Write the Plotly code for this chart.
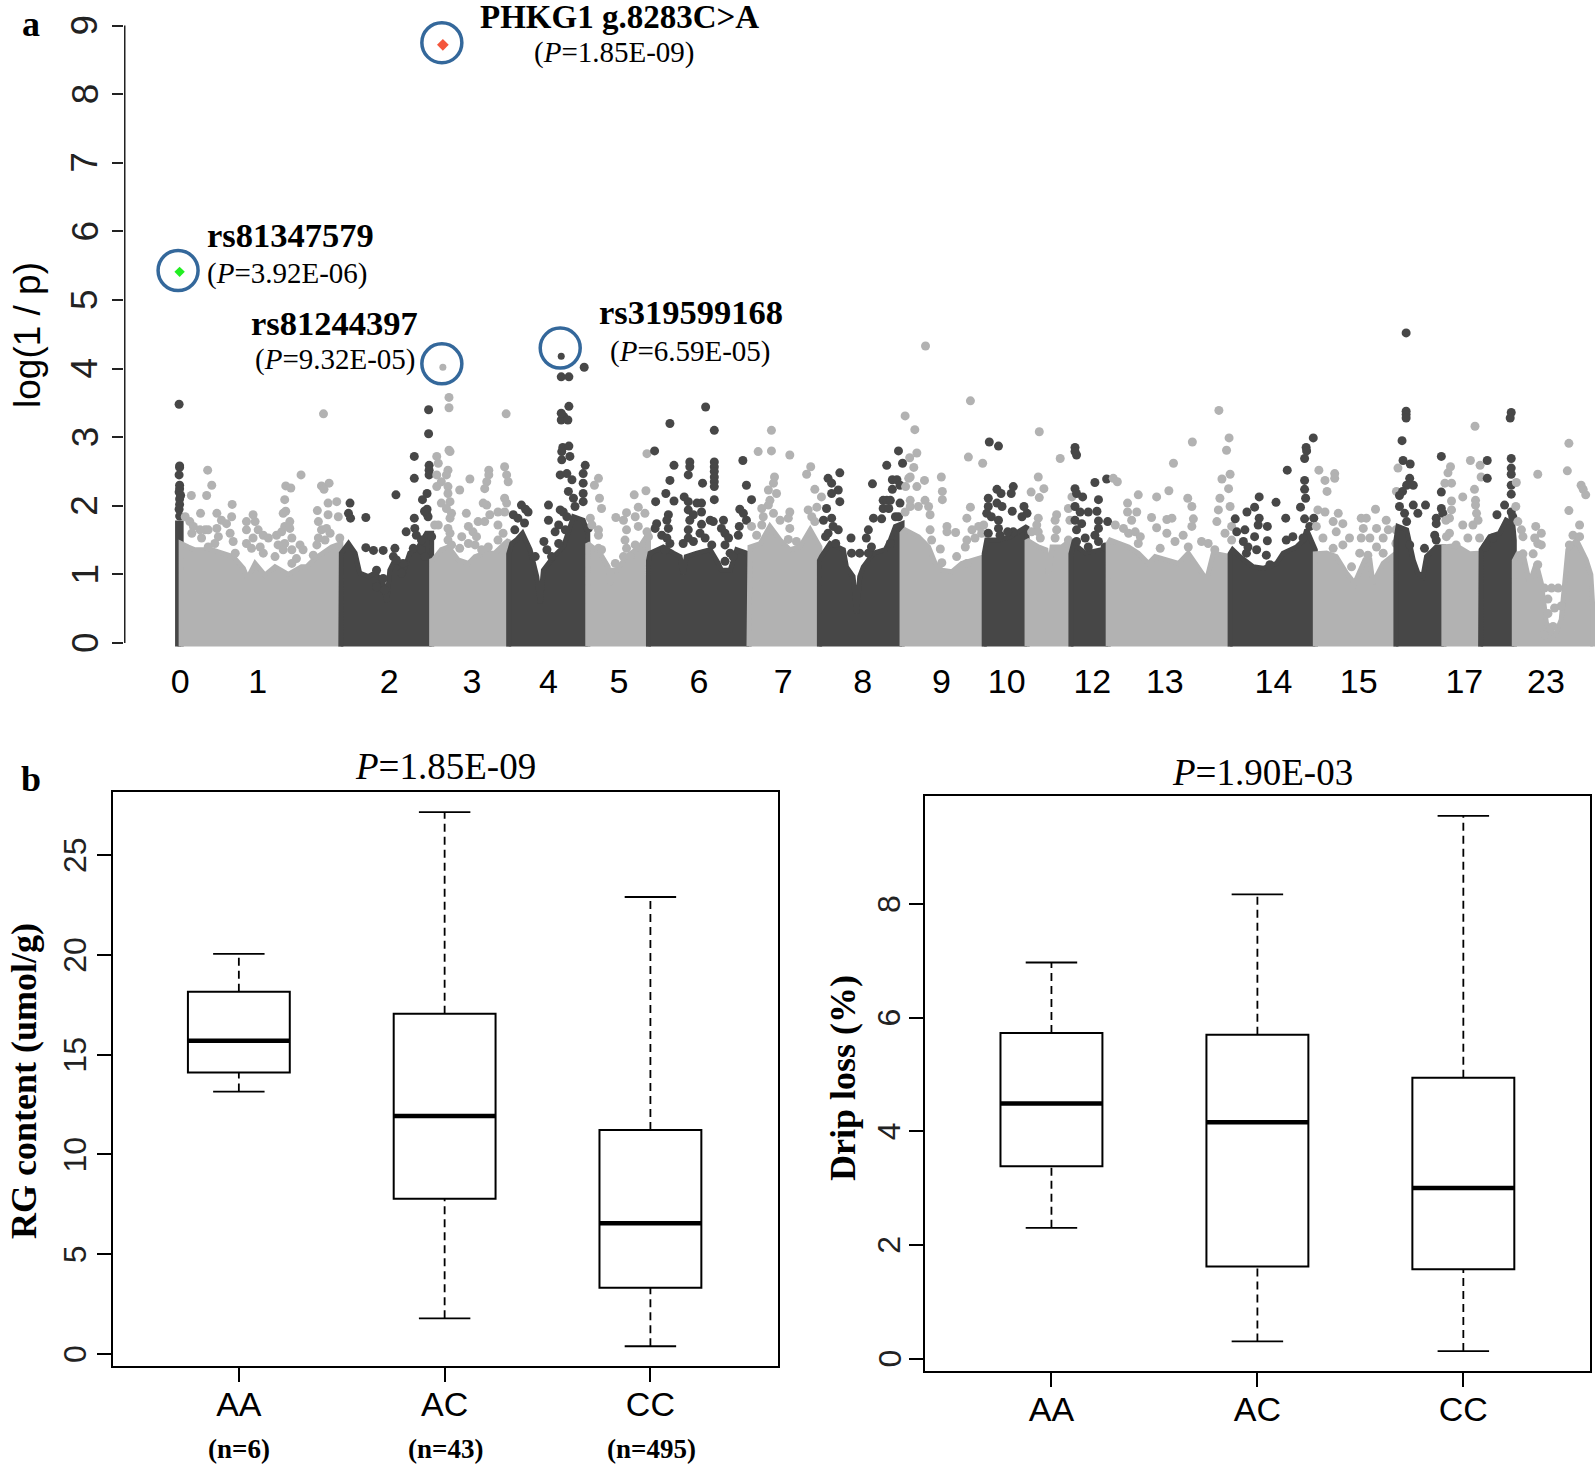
import plotly.graph_objects as go

W, H = 1595, 1466
DARK, LIGHT = "#474747", "#b2b2b2"
SERIF, SANS = "Liberation Serif", "Liberation Sans"

# ---- panel a: genome position (arbitrary units) and log(1/p)
CHR_TICK_POS = [353, 505, 763, 925, 1075, 1213, 1370, 1535, 1691, 1845, 1973, 2141, 2283, 2496, 2663, 2870, 3030]
CHR_TICK_LABELS = ["0", "1", "2", "3", "4", "5", "6", "7", "8", "9", "10", "12", "13", "14", "15", "17", "23"]
LOG_TICKS = [0, 1, 2, 3, 4, 5, 6, 7, 8, 9]

S0_ENV = [(348, 1.75), (355, 1.75)]
S0_PTS = [(351, 3.48), (352, 2.58), (352, 2.56), (351, 2.45), (352, 2.3), (352, 2.25), (351, 2.2), (354, 2.15), (352, 2.1), (352, 2.02), (351, 1.95), (352, 1.85)]
S1_ENV = [(355, 1.45), (369, 1.4), (382, 1.36), (415, 1.36), (434, 1.31), (457, 1.26), (477, 1.09), (485, .94), (500, 1.16), (519, .99), (539, 1.11), (565, 1.0), (591, 1.11), (601, 1.11), (617, 1.23), (650, 1.4), (668, 1.45)]
S1_PTS = [(375, 2.15), (405, 2.15), (407, 2.52), (415, 2.3), (455, 2.02), (558, 2.09), (560, 2.29), (570, 2.26), (590, 2.45), (560, 1.92), (630, 2.29), (645, 2.33), (635, 2.24), (660, 2.06), (634, 3.34), (393, 1.89),
          (363, 1.84), (372, 1.77), (379, 1.70), (376, 1.60), (392, 1.65), (402, 1.65), (395, 1.53), (408, 1.65), (425, 1.67), (428, 1.55), (421, 1.45), (408, 1.40), (425, 1.89), (434, 1.79), (444, 1.74), (454, 1.84), (451, 1.60), (457, 1.48), (483, 1.77), (483, 1.65), (496, 1.87), (500, 1.77), (506, 1.65), (516, 1.57), (526, 1.53), (483, 1.45), (496, 1.53), (510, 1.40), (493, 1.38), (516, 1.31), (461, 1.31), (542, 1.57), (552, 1.62), (558, 1.70), (555, 1.89), (568, 1.77), (568, 1.67), (572, 1.53), (558, 1.45), (545, 1.43), (539, 1.26), (555, 1.36), (572, 1.36), (588, 1.43), (594, 1.36), (581, 1.23), (572, 1.16), (621, 1.43), (624, 1.77), (630, 1.65), (640, 1.67), (647, 1.60), (624, 1.53), (637, 1.50), (663, 1.84), (666, 1.53), (643, 2.04), (643, 1.87), (622, 1.93), (614, 1.28)]
S2_ENV = [(668, 1.2), (669, 1.31), (683, 1.45), (696, 1.31), (705, 1.02), (722, .97), (735, 1.02), (751, .87), (758, .60), (764, 1.06), (774, 1.21), (794, 1.11), (803, 1.31), (820, 1.40), (836, 1.60), (846, 1.60)]
S2_PTS = [(812, 2.72), (812, 2.40), (841, 2.59), (841, 2.52), (841, 2.45), (776, 2.16), (837, 2.18), (828, 2.09), (836, 1.89), (839, 1.84), (837, 1.95), (832, 1.92), (686, 2.04), (683, 1.89), (687, 1.82), (717, 1.83), (812, 1.82), (796, 1.62), (813, 1.67), (816, 1.57), (826, 1.5), (846, 1.55), (810, 1.38), (826, 1.36), (833, 1.26), (717, 1.39), (732, 1.35), (751, 1.35), (774, 1.38), (738, 1.06), (751, .94), (738, .82), (754, .77), (790, 1.16), (787, 1.02), (771, 1.26), (777, 1.21), (840, 3.05), (840, 3.4)]
S3_ENV = [(846, 1.2), (849, 1.21), (865, 1.36), (879, 1.40), (898, 1.21), (918, 1.16), (931, 1.26), (950, 1.31), (970, 1.31), (989, 1.45), (997, 1.5)]
S3_PTS = [(856, 2.72), (859, 2.62), (882, 2.79), (878, 2.52), (856, 2.45), (875, 2.45), (865, 2.35), (856, 2.28), (878, 2.28), (878, 2.18), (882, 2.06), (865, 2.04), (875, 1.96), (885, 1.89), (882, 1.82), (852, 1.72), (859, 1.72), (878, 1.67), (882, 1.60), (878, 1.5), (885, 1.43), (901, 2.23), (921, 2.39), (914, 1.89), (918, 1.70), (905, 1.55), (927, 1.62), (934, 1.55), (918, 1.45), (931, 1.43), (944, 1.36), (957, 1.40), (937, 1.77), (950, 1.77), (960, 1.87), (954, 2.01), (947, 2.04), (958, 2.52), (958, 2.45), (954, 2.35), (950, 2.25), (989, 2.57), (993, 2.45), (996, 2.35), (989, 2.11), (993, 2.04), (976, 1.91), (989, 1.91), (976, 1.72), (986, 1.60), (976, 1.5), (901, 1.38), (880, 3.43), (880, 3.58), (992, 3.34), (880, 2.81)]
S4_ENV = [(997, 1.3), (1003, 1.45), (1012, 1.5), (1024, 1.6), (1039, 1.36), (1052, .97), (1059, .58), (1065, 1.06), (1085, 1.26), (1104, 1.40), (1124, 1.84), (1143, 1.79), (1152, 1.6)]
S4_PTS = [(1075, 2.01), (1075, 1.79), (1066, 1.48), (1088, 1.62), (1072, 1.36), (1095, 1.45), (1081, 1.26), (1049, 1.26), (1098, 1.94), (1104, 1.91), (1111, 1.84), (1095, 1.72), (1108, 1.65), (1114, 2.21), (1124, 2.11), (1098, 2.45), (1111, 2.47), (1121, 2.38), (1143, 2.33), (1143, 2.18), (1143, 2.06), (1147, 2.59), (1143, 2.47), (1127, 1.99), (1101, 2.67), (1117, 2.72), (1101, 2.79), (1153, 1.67), (1006, 1.87), (1022, 2.01), (1035, 1.91), (1009, 1.65), (1015, 1.82), (1028, 1.75), (1030, 1.95), (1100, 3.25), (1105, 3.3), (1115, 3.45), (1100, 3.35), (1113, 3.25), (1100, 3.88), (1115, 3.88), (1145, 4.02), (1103, 2.85), (1115, 2.87)]
S5_ENV = [(1152, 1.45), (1176, 1.31), (1192, 1.11), (1196, .85), (1201, 1.06), (1209, 1.06), (1228, 1.26), (1254, 1.40), (1271, 1.6)]
S5_PTS = [(1268, 2.76), (1173, 2.40), (1165, 2.30), (1175, 2.11), (1179, 1.96), (1243, 2.16), (1266, 2.22), (1207, 1.83), (1228, 1.90), (1251, 1.98), (1245, 1.84), (1264, 1.89), (1222, 1.79), (1228, 1.65), (1251, 1.70), (1157, 1.82), (1160, 1.72), (1173, 1.65), (1173, 1.57), (1225, 1.5), (1228, 1.38), (1245, 1.43), (1271, 1.55), (1268, 1.62), (1173, 1.38), (1179, 1.36), (1206, 1.16), (1222, 1.26), (1235, 1.26)]
S6_ENV = [(1271, 1.2), (1274, 1.31), (1300, 1.4), (1320, 1.31), (1333, 1.26), (1339, 1.0), (1345, 1.26), (1366, 1.31), (1392, 1.36), (1408, 1.16), (1414, 1.06), (1431, 1.06), (1444, 1.36), (1463, 1.31), (1468, 1.25)]
S6_PTS = [(1352, 2.64), (1352, 2.57), (1400, 2.64), (1400, 2.57), (1400, 2.5), (1400, 2.42), (1400, 2.35), (1400, 2.28), (1456, 2.66), (1321, 2.59), (1349, 2.45), (1313, 2.37), (1377, 2.33), (1463, 2.3), (1305, 2.18), (1285, 2.06), (1321, 2.07), (1341, 2.13), (1349, 2.06), (1400, 2.09), (1473, 2.09), (1366, 2.04), (1375, 2.04), (1375, 1.91), (1349, 1.94), (1359, 1.87), (1352, 1.79), (1310, 1.87), (1307, 1.79), (1287, 1.74), (1284, 1.67), (1310, 1.67), (1375, 1.73), (1392, 1.79), (1398, 1.77), (1418, 1.79), (1414, 1.67), (1421, 1.6), (1450, 1.95), (1457, 1.89), (1463, 1.79), (1449, 1.7), (1428, 1.53), (1447, 1.57), (1349, 1.65), (1349, 1.53), (1297, 1.57), (1307, 1.53), (1313, 1.45), (1339, 1.45), (1359, 1.48), (1372, 1.6), (1382, 1.53), (1395, 1.43), (1303, 1.36), (1421, 1.43), (1431, 1.31), (1421, 1.19), (1437, 1.26), (1283, 2.8), (1313, 3.2), (1383, 3.44), (1400, 3.1)]
S7_ENV = [(1468, 1.3), (1470, 1.4), (1490, 1.45), (1509, 1.7), (1529, 1.5), (1548, 1.36), (1568, 1.4), (1588, 1.65), (1607, 1.4)]
S7_PTS = [(1512, 3.1), (1486, 2.79), (1512, 2.8), (1548, 2.74), (1589, 2.57), (1581, 2.46), (1518, 2.42), (1516, 2.33), (1506, 2.23), (1522, 2.18), (1509, 2.08), (1506, 2.01), (1493, 1.96), (1516, 1.89), (1496, 1.84), (1493, 1.72), (1529, 1.79), (1548, 1.91), (1545, 1.82), (1548, 1.67), (1597, 2.24), (1610, 2.13), (1601, 1.98), (1584, 1.94), (1591, 1.84), (1597, 1.77), (1473, 1.7), (1483, 1.57), (1545, 1.51), (1561, 1.48)]
S8_ENV = [(1606, 1.2), (1610, 1.26), (1627, 1.45), (1653, 1.36), (1659, 1.11), (1672, .97), (1679, .43), (1685, .97), (1692, 1.11), (1712, 1.31), (1735, 1.36), (1745, 1.5), (1755, 1.7), (1768, 1.74)]
S8_PTS = [(1623, 2.4), (1646, 2.48), (1630, 2.33), (1643, 2.23), (1630, 2.18), (1646, 2.06), (1620, 1.96), (1630, 1.82), (1614, 1.79), (1643, 1.65), (1623, 1.6), (1668, 1.53), (1669, 1.31), (1685, 1.31), (1702, 1.31), (1708, 1.4), (1712, 1.82), (1702, 1.65), (1728, 1.81), (1710, 2.32), (1731, 2.08), (1731, 1.96), (1698, 1.53), (1761, 2.8), (1738, 2.59), (1769, 2.62), (1749, 2.38), (1758, 2.38), (1764, 2.3), (1749, 2.24), (1738, 2.08), (1745, 2.08), (1742, 1.96), (1764, 2.04), (1755, 1.84), (1761, 1.84), (1745, 1.45), (1638, 1.45), (1618, 1.55), (1633, 1.7)]
S9_ENV = [(1768, 1.6), (1774, 1.65), (1800, 1.55), (1820, 1.4), (1833, 1.16), (1846, 1.06), (1866, 1.04), (1885, 1.16), (1911, 1.21), (1930, 1.26)]
S9_PTS = [(1814, 4.33), (1902, 3.53), (1774, 3.31), (1793, 3.11), (1783, 2.7), (1898, 2.71), (1926, 2.62), (1797, 2.77), (1791, 2.56), (1784, 2.42), (1781, 2.4), (1797, 2.28), (1812, 2.37), (1775, 2.28), (1784, 2.08), (1774, 1.91), (1784, 1.99), (1800, 1.99), (1813, 2.08), (1820, 1.99), (1823, 1.87), (1845, 2.42), (1847, 2.21), (1847, 2.09), (1902, 1.98), (1895, 1.82), (1856, 1.7), (1856, 1.62), (1873, 1.61), (1823, 1.65), (1826, 1.5), (1843, 1.37), (1875, 1.26), (1846, 1.17), (1905, 1.65), (1918, 1.7), (1928, 1.72), (1895, 1.5), (1911, 1.53), (1892, 1.4), (1924, 1.6), (1895, 1.16)]
S10_ENV = [(1929, 1.3), (1934, 1.5), (1957, 1.5), (1980, 1.55), (2003, 1.65), (2013, 1.7)]
S10_PTS = [(1939, 2.93), (1957, 2.87), (1954, 2.24), (1962, 2.18), (1986, 2.28), (1982, 2.18), (1937, 2.11), (1954, 2.04), (1964, 1.99), (1984, 1.92), (2007, 1.99), (1937, 1.99), (1934, 1.89), (1943, 1.84), (1957, 1.79), (1957, 1.67), (1937, 1.6), (2003, 1.84), (2013, 1.89), (1960, 1.57), (1986, 1.62), (1975, 1.62)]
S11_ENV = [(2013, 1.5), (2035, 1.4), (2050, 1.36), (2055, 1.0), (2062, 1.4), (2081, 1.4), (2099, 1.5)]
S11_PTS = [(2035, 2.42), (2046, 2.25), (2021, 2.2), (2037, 2.12), (2101, 2.13), (2094, 1.96), (2071, 1.87), (2068, 1.79), (2071, 1.65), (2068, 1.53), (2097, 1.79), (2035, 1.82), (2032, 1.72), (2022, 1.62), (2035, 1.62), (2039, 1.53), (2094, 1.5), (2037, 3.08), (2078, 2.69)]
S12_ENV = [(2099, 1.3), (2104, 1.45), (2127, 1.31), (2159, 1.36), (2172, 1.36)]
S12_PTS = [(2107, 2.85), (2110, 2.74), (2107, 2.79), (2146, 2.34), (2169, 2.39), (2107, 2.25), (2110, 2.18), (2122, 2.13), (2153, 2.09), (2107, 1.99), (2117, 1.91), (2133, 1.91), (2150, 1.92), (2107, 1.79), (2120, 1.74), (2110, 1.65), (2153, 1.78), (2171, 1.77), (2153, 1.67), (2146, 1.57), (2153, 1.48), (2127, 1.53), (2133, 1.4), (2166, 1.4), (2110, 1.48)]
S13_ENV = [(2172, 1.45), (2176, 1.5), (2192, 1.45), (2212, 1.4), (2231, 1.31), (2251, 1.16), (2264, 1.26), (2290, 1.21), (2310, 1.16), (2329, 1.31), (2352, 1.06), (2365, .92), (2378, 1.31), (2411, 1.26)]
S13_PTS = [(2182, 2.4), (2190, 2.35), (2231, 2.16), (2267, 2.13), (2291, 2.22), (2328, 2.11), (2210, 2.04), (2210, 1.91), (2228, 1.91), (2336, 1.99), (2218, 1.79), (2257, 1.83), (2267, 1.68), (2287, 1.8), (2297, 1.82), (2339, 1.81), (2395, 2.39), (2411, 2.46), (2408, 2.25), (2391, 2.11), (2411, 1.99), (2388, 1.94), (2385, 1.77), (2414, 1.7), (2401, 1.6), (2414, 1.5), (2300, 2.62), (2319, 1.57), (2336, 1.7), (2186, 1.72), (2202, 1.67), (2212, 1.6), (2225, 1.62), (2235, 1.55), (2287, 1.6), (2303, 1.48), (2274, 1.38), (2329, 1.4), (2355, 1.48), (2368, 1.45), (2381, 1.36), (2231, 1.45), (2337, 2.93), (2389, 3.39), (2409, 2.99), (2404, 2.81)]
S14_ENV = [(2411, 1.3), (2416, 1.36), (2430, 1.26), (2456, 1.11), (2476, 1.09), (2502, 1.16), (2515, 1.31), (2541, 1.4), (2555, 1.5), (2561, 1.65), (2578, 1.36)]
S14_PTS = [(2574, 2.99), (2560, 2.85), (2561, 2.8), (2557, 2.69), (2523, 2.52), (2557, 2.37), (2557, 2.24), (2559, 2.11), (2549, 1.98), (2468, 2.13), (2501, 2.05), (2459, 1.98), (2444, 1.91), (2468, 1.82), (2466, 1.72), (2520, 1.82), (2557, 1.81), (2575, 1.82), (2484, 1.7), (2440, 1.65), (2484, 1.49), (2459, 1.55), (2437, 1.48), (2446, 1.4), (2463, 1.36), (2482, 1.28), (2521, 1.5), (2534, 1.55), (2554, 1.53), (2567, 1.7), (2489, 1.14), (2443, 1.31), (2421, 1.81), (2424, 1.62)]
S15_ENV = [(2578, 1.3), (2600, 1.31), (2619, 1.26), (2639, 1.02), (2655, .87), (2675, 1.21), (2685, 1.21), (2691, .87), (2711, 1.16), (2736, 1.31)]
S15_PTS = [(2585, 2.52), (2597, 2.37), (2601, 2.21), (2616, 2.47), (2616, 2.4), (2583, 1.94), (2597, 1.91), (2623, 1.89), (2632, 1.74), (2613, 1.77), (2619, 1.62), (2593, 1.53), (2580, 1.7), (2645, 1.53), (2632, 1.43), (2613, 1.38), (2649, 1.11), (2668, 1.82), (2678, 1.82), (2696, 1.95), (2672, 1.67), (2685, 1.53), (2698, 1.67), (2717, 1.79), (2721, 1.65), (2711, 1.53), (2698, 1.4), (2668, 1.53), (2665, 1.31), (2681, 1.28), (2711, 1.31), (2736, 1.65), (2736, 1.45), (2737, 2.21), (2740, 2.55)]
S16_ENV = [(2736, 1.5), (2740, 1.7), (2757, 1.65), (2770, 1.21), (2779, 1.02), (2789, .97), (2796, 1.26), (2815, 1.4), (2830, 1.4)]
S16_PTS = [(2756, 4.52), (2756, 3.38), (2756, 3.33), (2756, 3.28), (2748, 2.95), (2750, 2.66), (2764, 2.61), (2825, 2.72), (2763, 2.4), (2770, 2.3), (2757, 2.3), (2749, 2.21), (2743, 1.99), (2770, 2.01), (2779, 1.89), (2794, 2.01), (2825, 2.2), (2825, 1.96), (2828, 1.89), (2815, 1.82), (2815, 1.74), (2812, 1.57), (2815, 1.5), (2753, 1.89), (2757, 1.77), (2763, 1.43), (2792, 1.38), (2743, 2.15)]
S17_ENV = [(2830, 1.4), (2854, 1.42), (2881, 1.3), (2902, 1.31)]
S17_PTS = [(2891, 3.16), (2882, 2.66), (2901, 2.59), (2903, 2.42), (2838, 2.48), (2843, 2.57), (2832, 2.33), (2845, 2.33), (2890, 2.24), (2867, 2.13), (2892, 2.08), (2892, 2.01), (2845, 2.07), (2845, 1.94), (2841, 1.82), (2834, 1.79), (2894, 1.89), (2867, 1.72), (2887, 1.72), (2897, 1.79), (2835, 1.55), (2841, 1.6), (2877, 1.53), (2900, 1.53), (2854, 1.43)]
S18_ENV = [(2902, 1.2), (2903, 1.36), (2920, 1.55), (2939, 1.6), (2952, 1.79), (2965, 1.74), (2968, 1.5)]
S18_PTS = [(2962, 3.36), (2960, 3.28), (2915, 2.66), (2915, 2.4), (2962, 2.69), (2962, 2.55), (2962, 2.46), (2962, 2.3), (2962, 2.17), (2949, 2.01), (2934, 1.87), (2962, 1.91), (2965, 1.84), (2912, 1.4), (2926, 1.53)]
S19_ENV = [(2968, 1.2), (2975, 1.3), (2985, 1.31), (2998, .87), (3011, 1.16), (3021, .87), (3031, .29), (3047, .09), (3060, .34), (3073, 1.36), (3090, 1.5), (3109, 1.21), (3118, 1.0), (3122, .5)]
S19_PTS = [(3075, 2.91), (3014, 2.46), (3072, 2.51), (3099, 2.3), (3103, 2.24), (3108, 2.16), (3075, 1.93), (3096, 1.72), (2972, 2.34), (2971, 1.99), (2975, 1.77), (2982, 1.65), (2985, 1.55), (3010, 1.7), (3021, 1.6), (3008, 1.53), (3014, 1.45), (3021, 1.43), (3005, 1.3), (2985, 1.3), (3014, 1.14), (3027, .8), (3041, .8), (3054, .8), (3034, .64), (3060, .54), (3047, .51), (3034, .43), (3044, .24), (3037, .17), (3027, .12), (3083, 1.57), (3096, 1.55), (3076, 1.43)]

SEGMENTS = [
    (S0_ENV, S0_PTS), (S1_ENV, S1_PTS), (S2_ENV, S2_PTS), (S3_ENV, S3_PTS), (S4_ENV, S4_PTS),
    (S5_ENV, S5_PTS), (S6_ENV, S6_PTS), (S7_ENV, S7_PTS), (S8_ENV, S8_PTS), (S9_ENV, S9_PTS),
    (S10_ENV, S10_PTS), (S11_ENV, S11_PTS), (S12_ENV, S12_PTS), (S13_ENV, S13_PTS), (S14_ENV, S14_PTS),
    (S15_ENV, S15_PTS), (S16_ENV, S16_PTS), (S17_ENV, S17_PTS), (S18_ENV, S18_PTS), (S19_ENV, S19_PTS),
]

HIT_GREY_X, HIT_GREY_Y = [868], [4.02]
HIT_DARK_X, HIT_DARK_Y = [1100], [4.18]
HIT_RED_X, HIT_RED_Y = [868], [8.72]
HIT_GREEN_X, HIT_GREEN_Y = [352], [5.41]
RING_X = [866, 349, 866, 1098]
RING_Y = [8.75, 5.43, 4.07, 4.30]

# ---- panel b: boxplots
GENOTYPES = ["AA", "AC", "CC"]
GENO_POS = [1, 2, 3]
GENO_N = ["(n=6)", "(n=43)", "(n=495)"]
RG_LOW = [13.15, 1.79, 0.39]
RG_Q1 = [14.1, 7.78, 3.32]
RG_MED = [15.7, 11.93, 6.55]
RG_Q3 = [18.15, 17.05, 11.23]
RG_HIGH = [20.05, 27.15, 22.9]
RG_TICKS = [0, 5, 10, 15, 20, 25]
DL_LOW = [2.30, 0.30, 0.13]
DL_Q1 = [3.385, 1.62, 1.57]
DL_MED = [4.49, 4.16, 3.00]
DL_Q3 = [5.73, 5.70, 4.94]
DL_HIGH = [6.97, 8.17, 9.55]
DL_TICKS = [0, 2, 4, 6, 8]


def px_x(p):
    return p / W


def px_y(p):
    return 1 - p / H


fig = go.Figure()

for i, (env, pts) in enumerate(SEGMENTS):
    col = DARK if i % 2 == 0 else LIGHT
    ex = [env[0][0]] + [e[0] for e in env] + [env[-1][0]]
    ey = [-0.05] + [e[1] for e in env] + [-0.05]
    fig.add_trace(go.Scatter(x=ex, y=ey, mode="lines", fill="toself", fillcolor=col,
                             line=dict(color=col, width=5), xaxis="x", yaxis="y", hoverinfo="skip"))
    fig.add_trace(go.Scatter(x=[p[0] for p in pts], y=[p[1] for p in pts], mode="markers",
                             marker=dict(color=col, size=9), xaxis="x", yaxis="y", hoverinfo="skip"))

for xs, ys, col, sym, sz in [
    (HIT_GREY_X, HIT_GREY_Y, LIGHT, "circle", 7),
    (HIT_DARK_X, HIT_DARK_Y, DARK, "circle", 7),
    (HIT_RED_X, HIT_RED_Y, "#f4563c", "diamond", 9),
    (HIT_GREEN_X, HIT_GREEN_Y, "#22ee22", "diamond", 8),
]:
    fig.add_trace(go.Scatter(x=xs, y=ys, mode="markers", marker=dict(color=col, size=sz, symbol=sym),
                             xaxis="x", yaxis="y", hoverinfo="skip"))
fig.add_trace(go.Scatter(x=RING_X, y=RING_Y, mode="markers",
                         marker=dict(symbol="circle-open", size=40, color="#34689b", line=dict(color="#34689b", width=3.5)),
                         xaxis="x", yaxis="y", hoverinfo="skip", cliponaxis=False))
fig.add_trace(go.Scatter(x=[244, 244], y=[LOG_TICKS[0], LOG_TICKS[-1]], mode="lines",
                         line=dict(color="#222222", width=2), xaxis="x", yaxis="y", hoverinfo="skip", cliponaxis=False))


def add_boxes(low, q1, med, q3, high, xa, ya):
    fig.add_trace(go.Box(x=GENO_POS, q1=q1, median=med, q3=q3, lowerfence=q1, upperfence=q3,
                         width=0.495, whiskerwidth=0, boxpoints=False, fillcolor="rgba(0,0,0,0)",
                         line=dict(color="black", width=2), xaxis=xa, yaxis=ya, hoverinfo="skip"))
    wx, wy, cx, cy, mx, my = [], [], [], [], [], []
    for p, lo, a, m, b, hi in zip(GENO_POS, low, q1, med, q3, high):
        wx += [p, p, None, p, p, None]
        wy += [lo, a, None, b, hi, None]
        cx += [p - 0.125, p + 0.125, None, p - 0.125, p + 0.125, None]
        cy += [lo, lo, None, hi, hi, None]
        mx += [p - 0.2475, p + 0.2475, None]
        my += [m, m, None]
    fig.add_trace(go.Scatter(x=wx, y=wy, mode="lines", line=dict(color="black", width=1.8, dash="8px,5px"),
                             xaxis=xa, yaxis=ya, hoverinfo="skip"))
    fig.add_trace(go.Scatter(x=cx, y=cy, mode="lines", line=dict(color="black", width=1.8),
                             xaxis=xa, yaxis=ya, hoverinfo="skip"))
    fig.add_trace(go.Scatter(x=mx, y=my, mode="lines", line=dict(color="black", width=4.5),
                             xaxis=xa, yaxis=ya, hoverinfo="skip"))


add_boxes(RG_LOW, RG_Q1, RG_MED, RG_Q3, RG_HIGH, "x2", "y2")
add_boxes(DL_LOW, DL_Q1, DL_MED, DL_Q3, DL_HIGH, "x3", "y3")


def note(text, x, y, size, bold=False, family=SERIF, angle=0):
    if bold:
        text = "<b>" + text + "</b>"
    return dict(text=text, x=px_x(x), y=px_y(y), xref="paper", yref="paper", xanchor="center", yanchor="middle",
                showarrow=False, textangle=angle, font=dict(family=family, size=size, color="black"))


def ytick_labels(ticks, yref, x, size):
    return [dict(text=str(t), x=px_x(x), y=t, xref="paper", yref=yref, xanchor="center", yanchor="middle",
                 showarrow=False, textangle=-90, font=dict(family=SANS, size=size, color="#222222")) for t in ticks]


annos = [
    note("a", 31, 24, 36, True),
    note("b", 31, 779, 36, True),
    note("PHKG1 g.8283C&gt;A", 619, 17, 33, True),
    note("(<i>P</i>=1.85E-09)", 614, 53, 29),
    note("rs81347579", 290, 235, 34.5, True),
    note("(<i>P</i>=3.92E-06)", 287, 273, 29),
    note("rs81244397", 334, 323, 34.5, True),
    note("(<i>P</i>=9.32E-05)", 335, 360, 29),
    note("rs319599168", 691, 312, 34.5, True),
    note("(<i>P</i>=6.59E-05)", 690, 351, 29),
    note("log(1 / p)", 27, 335, 37, False, SANS, -90),
    note("<i>P</i>=1.85E-09", 445, 767, 37),
    note("<i>P</i>=1.90E-03", 1262, 772, 37),
    note("RG content (umol/g)", 24, 1081, 36, True, SERIF, -90),
    note("Drip loss (%)", 843, 1078, 36, True, SERIF, -90),
]
for x, t in zip([239, 445, 651], GENO_N):
    annos.append(note(t, x, 1449, 27, True))
annos += ytick_labels(LOG_TICKS, "y", 85, 37)
annos += ytick_labels(RG_TICKS, "y2", 75, 32)
annos += ytick_labels(DL_TICKS, "y3", 889, 32)

box_x = dict(type="linear", tickvals=GENO_POS, ticktext=GENOTYPES, ticks="outside", ticklen=14, tickwidth=1.8,
             tickcolor="black", showline=True, linecolor="black", linewidth=1.8, mirror=True, showgrid=False,
             zeroline=False, tickfont=dict(family=SANS, size=34, color="black"), ticklabelstandoff=-7)
box_y = dict(ticks="outside", ticklen=14, tickwidth=1.8, tickcolor="black", showline=True, linecolor="black",
             linewidth=1.8, mirror=True, showgrid=False, zeroline=False, showticklabels=False)

fig.update_layout(
    width=W, height=H, autosize=False, margin=dict(l=0, r=0, t=0, b=0), showlegend=False,
    paper_bgcolor="white", plot_bgcolor="white", hovermode=False, annotations=annos, boxmode="overlay",
    xaxis=dict(domain=[px_x(124), 1], range=[243, 3126.2], anchor="y", tickvals=CHR_TICK_POS, ticktext=CHR_TICK_LABELS,
               ticks="", showline=False, showgrid=False, zeroline=False, ticklabelstandoff=8,
               tickfont=dict(family=SANS, size=34, color="black")),
    yaxis=dict(domain=[px_y(650), 1], range=[-0.102, 9.373], anchor="x", tickvals=LOG_TICKS, ticks="outside", ticklen=11,
               tickwidth=1.8, tickcolor="#222222", showline=False, showgrid=False, zeroline=False, showticklabels=False),
    xaxis2=dict(domain=[px_x(112.5), px_x(778)], range=[0.386, 3.62], anchor="y2", **box_x),
    yaxis2=dict(domain=[px_y(1366), px_y(792)], range=[-0.6, 28.16], anchor="x2", tickvals=RG_TICKS, **box_y),
    xaxis3=dict(domain=[px_x(925), px_x(1590)], range=[0.386, 3.615], anchor="y3", **box_x),
    yaxis3=dict(domain=[px_y(1371), px_y(796)], range=[-0.22, 9.90], anchor="x3", tickvals=DL_TICKS, **box_y),
)

fig.write_html("out.html", config={"displayModeBar": False},
               post_script="document.body.style.margin='0';document.body.style.overflow='hidden';window.dispatchEvent(new Event('resize'));")
